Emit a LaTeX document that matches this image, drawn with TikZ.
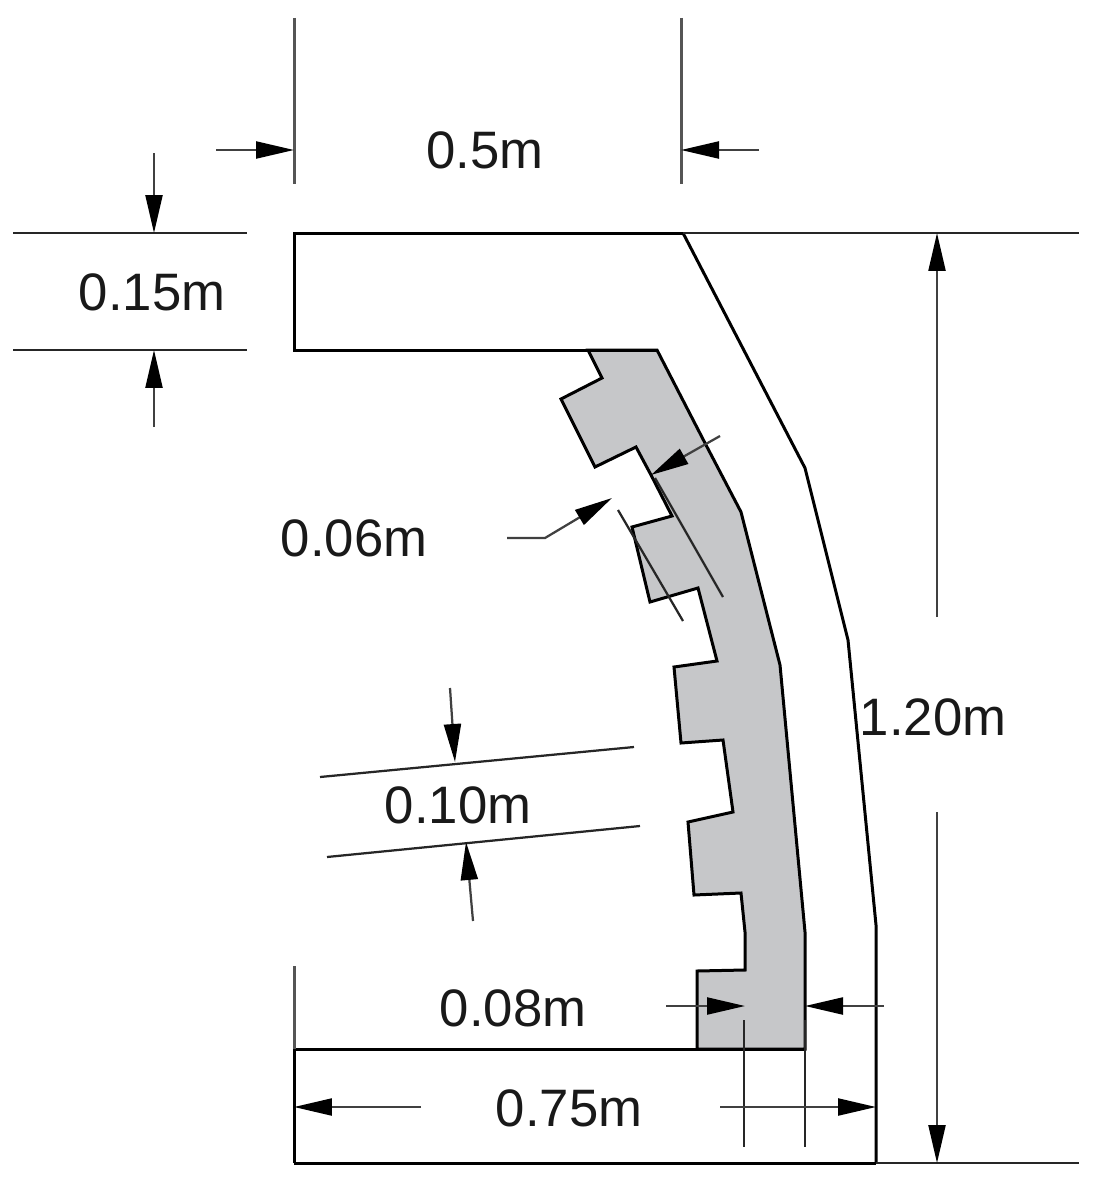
\documentclass[tikz,border=0pt]{standalone}
\usepackage{fontspec}
\setmainfont{Liberation Sans}
\usetikzlibrary{arrows.meta}
\definecolor{liningrey}{RGB}{198,199,201}
\definecolor{dimgrey}{RGB}{85,85,85}
\tikzset{
    wallline/.style={draw=black,line width=0.06cm,line join=miter},
    dimline/.style={draw=dimgrey,line width=0.06cm},
    thinline/.style={draw=black!85,line width=0.045cm},
    dimarrow/.style={-{Triangle[length=0.76cm,width=0.34cm,color=black]},draw=black!75,line width=0.045cm},
    dimlabel/.style={font=\fontsize{30}{32}\selectfont,text=black!90,inner sep=0pt}
}
\begin{document}
\begin{tikzpicture}[x=0.02cm,y=-0.02cm]
                \useasboundingbox (0,0) rectangle (1098,1186);

                % lining
                \path [fill=liningrey, wallline] (588,350) -- (602,378) -- (561,399) -- (595,467) -- (636,447) -- (651,475) -- (672,516) -- (632,527) -- (650,602) -- (698,588) -- (717,661) -- (674,667) -- (681,743) -- (723,740) -- (733,812) -- (688,822) -- (694,895) -- (741,893) -- (745,932) -- (745,970) -- (697,971) -- (697,1049) -- (805,1049) -- (805,932) -- (780,665) -- (741,512) -- (706,445) -- (657,350) -- cycle;

                % concrete section
                \path [wallline] (683,233) -- (294,233) -- (294,350) -- (657,350);
                \path [wallline] (683,233) -- (805,468) -- (848,640) -- (876,925) -- (876,1163);
                \path [wallline] (294,1163) -- (294,1049) -- (805,1049);
                \path [wallline] (294,1163) -- (876,1163);

                % extension lines
                \path [dimline] (294,18) -- (294,184);
                \path [dimline] (681,18) -- (681,184);
                \path [thinline] (13,233) -- (247,233);
                \path [thinline] (13,350) -- (247,350);
                \path [thinline] (683,233) -- (1079,233);
                \path [thinline] (876,1163) -- (1079,1163);
                \path [dimline] (294,966) -- (294,1049);
                \path [thinline] (744,1020) -- (744,1147);
                \path [thinline] (805,1020) -- (805,1147);
                \path [thinline] (320,777) -- (634,747);
                \path [thinline] (327,857) -- (640,826);
                \path [thinline] (618,510) -- (683,621);
                \path [thinline] (655,478) -- (723,597);

                % dimension arrows
                \path [dimarrow] (216,150) -- (294,150);
                \path [dimarrow] (759,150) -- (681,150);
                \path [dimarrow] (154,153) -- (154,233);
                \path [dimarrow] (154,427) -- (154,350);
                \path [dimarrow] (937,617) -- (937,233);
                \path [dimarrow] (937,812) -- (937,1163);
                \path [dimarrow] (450,688) -- (455,762);
                \path [dimarrow] (473,921) -- (466,842);
                \path [dimarrow] (666,1006) -- (745,1006);
                \path [dimarrow] (884,1006) -- (805,1006);
                \path [dimarrow] (421,1107) -- (294,1107);
                \path [dimarrow] (720,1107) -- (876,1107);
                \path [dimarrow] (720,436) -- (651,475);
                \path [dimarrow] (507,538) -- (545,538) -- (612,498);

                % labels
                \node[dimlabel] (topwidth) at (485,150) {0.5m};
                \node[dimlabel] (slabdepth) at (152,292) {0.15m};
                \node[dimlabel] (liningdepth) at (354,538) {0.06m};
                \node[dimlabel] (ribgap) at (458,805) {0.10m};
                \node[dimlabel] (basedepth) at (513,1008) {0.08m};
                \node[dimlabel] (basewidth) at (569,1108) {0.75m};
                \node[dimlabel] (height) at (933,717) {1.20m};
\end{tikzpicture}
\end{document}
